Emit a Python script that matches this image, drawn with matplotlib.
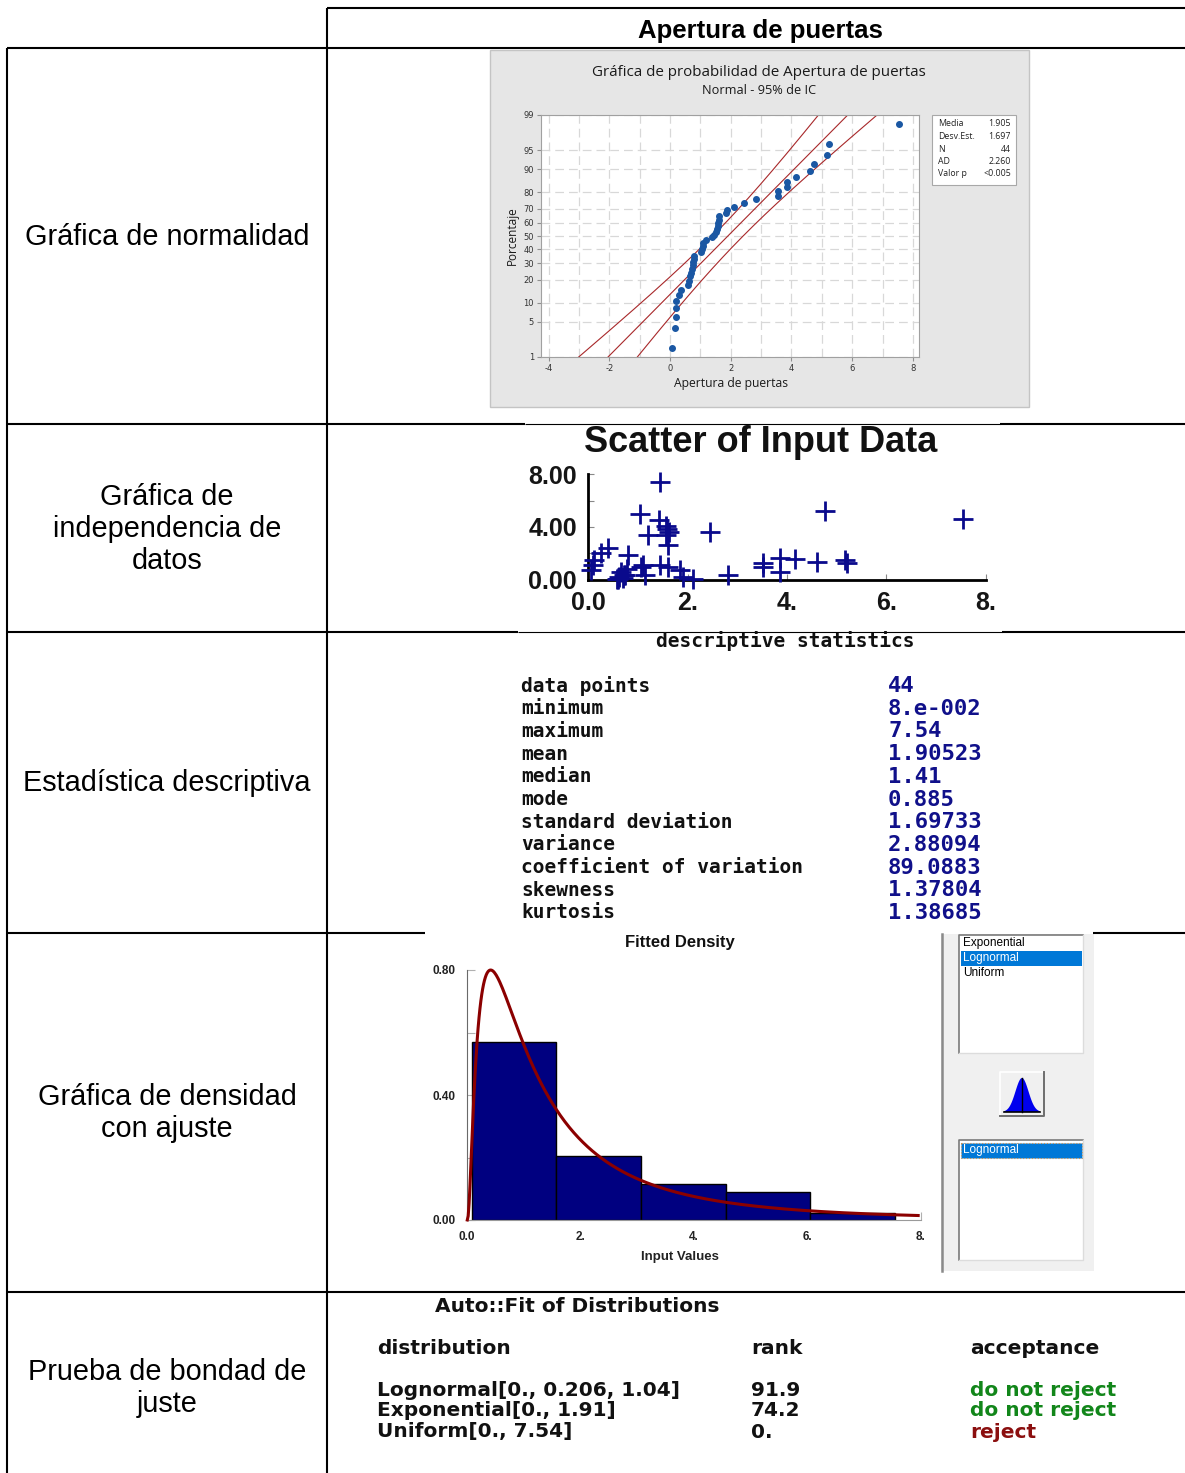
import math
from statistics import NormalDist
import numpy as np
import matplotlib
matplotlib.use("Agg")
import matplotlib.pyplot as plt
from matplotlib.patches import Rectangle, Polygon

# ---------------- data ----------------
header = "Apertura de puertas"
row_labels = ["Gráfica de normalidad",
              "Gráfica de\nindependencia de\ndatos",
              "Estadística descriptiva",
              "Gráfica de densidad\ncon ajuste",
              "Prueba de bondad de\njuste"]

apertura_sorted = [0.08, 0.15, 0.18, 0.18, 0.19, 0.31, 0.37, 0.59, 0.62, 0.66,
                   0.70, 0.72, 0.74, 0.76, 0.78, 0.80, 1.02, 1.04, 1.08, 1.10,
                   1.19, 1.38, 1.44, 1.53, 1.55, 1.58, 1.58, 1.60, 1.62, 1.85,
                   1.87, 2.10, 2.43, 2.83, 3.54, 3.54, 3.85, 3.86, 4.15, 4.62,
                   4.75, 5.18, 5.23, 7.54]
prob_ticks = [1, 5, 10, 20, 30, 40, 50, 60, 70, 80, 90, 95, 99]
prob_xticks = [-4, -2, 0, 2, 4, 6, 8]
norm_mean = 1.905
norm_sd = 1.697
norm_stat_names = ["Media", "Desv.Est.", "N", "AD", "Valor p"]
norm_stat_vals = ["1.905", "1.697", "44", "2.260", "<0.005"]

# lag scatter (x_i, x_i+1) read from "Scatter of Input Data"
lag_x = [1.44, 1.05, 1.42, 1.56, 1.58, 1.62, 1.56, 1.21, 1.61, 2.45,
         4.77, 7.54, 0.40, 0.27, 0.13, 0.10, 0.07, 0.81, 0.62, 0.70,
         0.75, 0.60, 0.66, 1.07, 1.14, 1.44, 1.61, 1.85, 1.91, 2.11,
         2.82, 3.52, 3.52, 3.86, 3.86, 4.16, 4.60, 5.17, 5.20, 0.78,
         0.72, 1.10, 0.59]
lag_y = [7.37, 5.00, 4.55, 4.04, 3.85, 3.60, 3.40, 3.41, 2.65, 3.66,
         5.17, 4.60, 2.40, 2.02, 1.52, 1.14, 0.76, 1.89, 0.25, 0.15,
         0.38, 0.10, 0.60, 1.01, 0.38, 1.14, 1.01, 0.76, 0.25, 0.10,
         0.38, 1.26, 1.01, 1.64, 0.63, 1.56, 1.39, 1.52, 1.31, 0.80,
         0.35, 1.10, 0.08]
scatter_yticklabels = ["0.00", "", "4.00", "", "8.00"]
scatter_xticklabels = ["0.0", "2.", "4.", "6.", "8."]

desc_names = ["data points", "minimum", "maximum", "mean", "median", "mode",
              "standard deviation", "variance", "coefficient of variation",
              "skewness", "kurtosis"]
desc_vals = ["44", "8.e-002", "7.54", "1.90523", "1.41", "0.885", "1.69733",
             "2.88094", "89.0883", "1.37804", "1.38685"]

hist_bins = 5
logn_mu = 0.206
logn_sigma = 1.04
dens_yticklabels = ["0.00", "", "0.40", "", "0.80"]
dens_xticklabels = ["0.0", "2.", "4.", "6.", "8."]
dist_list = ["Exponential", "Lognormal", "Uniform"]
dist_selected = ["Lognormal"]

fit_names = ["Lognormal[0., 0.206, 1.04]", "Exponential[0., 1.91]", "Uniform[0., 7.54]"]
fit_rank = ["91.9", "74.2", "0."]
fit_accept = ["do not reject", "do not reject", "reject"]
fit_colors = ["#12861a", "#12861a", "#8b0f0f"]

# ---------------- figure ----------------
W, H = 1185, 1473
fig = plt.figure(figsize=(W / 100, H / 100), dpi=100)
fig.patch.set_facecolor("white")


def ax_px(l, t, r, b):
    return fig.add_axes([l / W, 1 - b / H, (r - l) / W, (b - t) / H])


bg = ax_px(0, 0, W, H)
bg.set_xlim(0, W)
bg.set_ylim(H, 0)
bg.axis("off")

LW = 1.5
def hl(y, x0, x1, lw=LW):
    bg.plot([x0, x1], [y, y], color="black", lw=lw, solid_capstyle="butt")
def vl(x, y0, y1, lw=LW):
    bg.plot([x, x], [y0, y1], color="black", lw=lw, solid_capstyle="butt")

hl(8, 327, W)
vl(327, 8, H)
hl(48, 7, W)
vl(7, 48, H)
hl(424, 7, 525); hl(424, 525, 1000, lw=0.8); hl(424, 1000, W)
hl(632, 7, 518); hl(632, 518, 1002, lw=0.8); hl(632, 1002, W)
hl(933, 7, 425); hl(933, 1093, W)
hl(1292, 7, W)

lab_font = "Liberation Sans"
row_y = [237, 529, 783, 1113, 1388]
for txt, y in zip(row_labels, row_y):
    bg.text(167, y, txt, ha="center", va="center", fontsize=20.8, family=lab_font,
            linespacing=1.18)
bg.text(760, 31, header, ha="center", va="center", fontsize=18.5, family=lab_font,
        fontweight="bold")

# ---------------- normality plot ----------------
bg.add_patch(Rectangle((490, 50), 539, 357, fc="#e6e6e6", ec="#c4c4c4", lw=1))
nd = NormalDist()
n = len(apertura_sorted)
pp = [(i + 1 - 0.3) / (n + 0.4) for i in range(n)]
zz = [nd.inv_cdf(p) for p in pp]
z1, z99 = nd.inv_cdf(0.01), nd.inv_cdf(0.99)

ax1 = ax_px(541, 115, 919, 357)
ax1.set_facecolor("white")
ax1.set_xlim(-4.25, 8.2)
ax1.set_ylim(z1, z99)
for xv in range(-4, 9):
    ax1.axvline(xv, color="#d8d8d8", lw=0.9, ls=(0, (7, 4)), zorder=0)
for pt in prob_ticks:
    ax1.axhline(nd.inv_cdf(pt / 100), color="#d8d8d8", lw=0.9, ls=(0, (7, 4)), zorder=0)
zg = np.linspace(z1, z99, 300)
center = norm_mean + norm_sd * zg
half = 1.96 * norm_sd * np.sqrt(1 / n + zg ** 2 / (2 * n))
for xs in (center, center - half, center + half):
    ax1.plot(xs, zg, color="#a8282a", lw=0.8, zorder=2)
ax1.scatter(apertura_sorted, zz, s=16, color="#1a57a3", zorder=3, clip_on=False)
ax1.set_yticks([nd.inv_cdf(p / 100) for p in prob_ticks])
ax1.set_yticklabels([str(p) for p in prob_ticks])
ax1.set_xticks(prob_xticks)
ax1.set_xticklabels([str(v) for v in prob_xticks])
ax1.tick_params(labelsize=6, length=3, color="#909090", pad=2, labelcolor="#333333")
for s in ax1.spines.values():
    s.set_color("#a0a0a0")
    s.set_linewidth(0.8)
nfont = "Open Sans"
bg.text(759, 72, "Gráfica de probabilidad de Apertura de puertas", ha="center",
        va="center", fontsize=10.9, family=nfont, color="#1a1a1a")
bg.text(759, 90, "Normal - 95% de IC", ha="center", va="center", fontsize=9.2,
        family=nfont, color="#1a1a1a")
bg.text(731, 384, "Apertura de puertas", ha="center", va="center", fontsize=8.7,
        family=nfont, color="#1a1a1a")
bg.text(512, 236, "Porcentaje", ha="center", va="center", fontsize=8.5,
        family=nfont, rotation=90, color="#1a1a1a")
bg.add_patch(Rectangle((932, 115), 84, 70, fc="white", ec="#a8a8a8", lw=0.8))
for i, (nm, vv) in enumerate(zip(norm_stat_names, norm_stat_vals)):
    y = 124 + i * 12.5
    bg.text(938, y, nm, ha="left", va="center", fontsize=6.3, family=nfont, color="#222222")
    bg.text(1011, y, vv, ha="right", va="center", fontsize=6.3, family=nfont, color="#222222")

# ---------------- scatter of input data ----------------
ax2 = ax_px(588, 474, 986, 580)
ax2.set_xlim(0, 8)
ax2.set_ylim(0, 8)
ax2.plot(lag_x, lag_y, "+", ms=15, mew=2, color="#0a0a8c", clip_on=False, zorder=3)
for side in ("top", "right"):
    ax2.spines[side].set_visible(False)
for side in ("left", "bottom"):
    ax2.spines[side].set_color("black")
    ax2.spines[side].set_linewidth(2)
ax2.set_yticks([0, 2, 4, 6, 8])
ax2.set_yticklabels(scatter_yticklabels)
ax2.set_xticks([0, 2, 4, 6, 8])
ax2.set_xticklabels(scatter_xticklabels)
ax2.tick_params(direction="in", length=4, color="#888888", labelsize=18, pad=8,
                labelcolor="#151515")
for t in ax2.get_xticklabels() + ax2.get_yticklabels():
    t.set_fontweight("bold")
    t.set_family(lab_font)
bg.text(761, 442, "Scatter of Input Data", ha="center", va="center", fontsize=26,
        fontweight="bold", family=lab_font, color="#111111")

# ---------------- descriptive statistics ----------------
mono = "DejaVu Sans Mono"
bg.text(785, 641, "descriptive statistics", ha="center", va="center", fontsize=14,
        fontweight="bold", family=mono, color="#111111")
for i, (nm, vv) in enumerate(zip(desc_names, desc_vals)):
    y = 686 + i * 22.7
    bg.text(521, y, nm, ha="left", va="center", fontsize=14, fontweight="bold",
            family=mono, color="#111111")
    bg.text(888, y, vv, ha="left", va="center", fontsize=16, fontweight="bold",
            family=mono, color="#10108a")

# ---------------- fitted density ----------------
ax3 = ax_px(467, 970, 921, 1220)
ax3.set_xlim(0, 8)
ax3.set_ylim(0, 0.8)
data = np.array(apertura_sorted)
ax3.hist(data, bins=hist_bins, range=(data.min(), data.max()),
         weights=np.full(n, 1.0 / n), color="#000080", edgecolor="black", lw=1, zorder=2)
bw = (data.max() - data.min()) / hist_bins
xg = np.linspace(0.005, 7.95, 500)
pdf = np.exp(-(np.log(xg) - logn_mu) ** 2 / (2 * logn_sigma ** 2)) / (xg * logn_sigma * math.sqrt(2 * math.pi))
ax3.plot(xg, pdf * bw, color="#8b0000", lw=2.2, zorder=3, clip_on=False)
for side in ("top", "right"):
    ax3.spines[side].set_visible(False)
ax3.spines["left"].set_color("#6a6a6a")
ax3.spines["bottom"].set_color("#9a9a9a")
ax3.set_yticks([0, 0.2, 0.4, 0.6, 0.8])
ax3.set_yticklabels(dens_yticklabels)
ax3.set_xticks([0, 2, 4, 6, 8])
ax3.set_xticklabels(dens_xticklabels)
ax3.tick_params(direction="in", length=6, color="#b0b0b0", labelsize=8.5, pad=8,
                labelcolor="#222222")
for t in ax3.get_xticklabels() + ax3.get_yticklabels():
    t.set_fontweight("bold")
    t.set_family(lab_font)
bg.text(680, 943, "Fitted Density", ha="center", va="center", fontsize=12,
        fontweight="bold", family=lab_font, color="#111111")
bg.text(680, 1257, "Input Values", ha="center", va="center", fontsize=9.5,
        fontweight="bold", family=lab_font, color="#222222")

# right UI panel
bg.add_patch(Rectangle((941, 934), 153, 337, fc="#f0f0f0", ec="none"))
bg.plot([942, 942], [934, 1271], color="#8a8a8a", lw=1.8)
def listbox(x0, y0, x1, y1):
    bg.add_patch(Rectangle((x0, y0), x1 - x0, y1 - y0, fc="white", ec="none"))
    bg.plot([x0, x0, x1], [y1, y0, y0], color="#7a7a7a", lw=1.2)
    bg.plot([x0, x1, x1], [y1, y1, y0], color="#dcdcdc", lw=1.0)
ui_font = "Liberation Sans"
listbox(959, 935, 1083, 1053)
for i, d in enumerate(dist_list):
    y = 943 + i * 15
    if d in dist_selected:
        bg.add_patch(Rectangle((961, y - 7.5), 121, 15, fc="#0078d7", ec="none"))
        c = "white"
    else:
        c = "black"
    bg.text(963, y, d, ha="left", va="center", fontsize=8.5, family=ui_font, color=c)
# button with bell icon
bg.add_patch(Rectangle((1000, 1072), 44, 44, fc="#f0f0f0", ec="none"))
bg.plot([1000, 1000, 1044], [1116, 1072, 1072], color="white", lw=1.2)
bg.plot([1000, 1044, 1044], [1116, 1116, 1072], color="#6e6e6e", lw=1.4)
bx = np.linspace(1004, 1040, 60)
by = 1112 - 34 * np.exp(-((bx - 1022) / 6.5) ** 2 / 2)
bg.add_patch(Polygon(np.column_stack([np.r_[bx, bx[-1], bx[0]], np.r_[by, 1112, 1112]]),
                     closed=True, fc="#0000ee", ec="none"))
bg.plot([1004, 1040], [1112, 1112], color="black", lw=1.2)
bg.plot([1022, 1022], [1078, 1112], color="black", lw=1.0)
listbox(959, 1140, 1083, 1260)
for i, d in enumerate(dist_selected):
    y = 1150 + i * 15
    bg.add_patch(Rectangle((961, y - 7.5), 121, 15, fc="#0078d7", ec="#c89050",
                           lw=0.8, ls=":"))
    bg.text(963, y, d, ha="left", va="center", fontsize=8.5, family=ui_font, color="white")

# ---------------- auto fit table ----------------
afont = "DejaVu Sans"
AFS = 14.5
bg.text(435, 1307, "Auto::Fit of Distributions", ha="left", va="center", fontsize=AFS,
        fontweight="bold", family=afont, color="#111111")
for x, txt in zip([377, 751, 970], ["distribution", "rank", "acceptance"]):
    bg.text(x, 1349, txt, ha="left", va="center", fontsize=AFS, fontweight="bold",
            family=afont, color="#111111")
for i in range(len(fit_names)):
    y = 1390 + i * 21
    bg.text(377, y, fit_names[i], ha="left", va="center", fontsize=AFS,
            fontweight="bold", family=afont, color="#111111")
    bg.text(751, y, fit_rank[i], ha="left", va="center", fontsize=AFS,
            fontweight="bold", family=afont, color="#111111")
    bg.text(970, y, fit_accept[i], ha="left", va="center", fontsize=AFS,
            fontweight="bold", family=afont, color=fit_colors[i])

fig.savefig("out.png", dpi=100)
